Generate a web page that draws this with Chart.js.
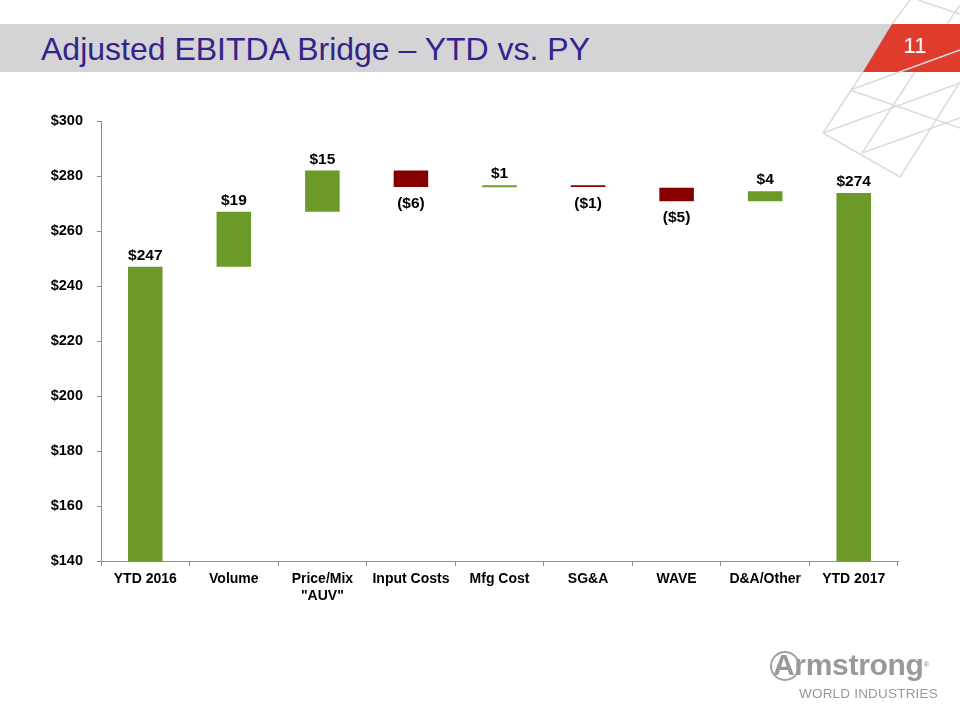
<!DOCTYPE html>
<html>
<head>
<meta charset="utf-8">
<script src="https://cdn.jsdelivr.net/npm/chart.js@4.4.1/dist/chart.umd.min.js"></script>
<style>
  html, body { margin: 0; padding: 0; background: #fff; }
  #page { position: relative; width: 960px; height: 720px; overflow: hidden; font-family: "Liberation Sans", Arial, sans-serif; }
  #deco { position: absolute; left: 0; top: 0; }
  #banner { position: absolute; left: 0; top: 24px; width: 960px; height: 48px; background: #d4d4d6; }
  #title { position: absolute; left: 41px; top: 31px; font-size: 32px; line-height: 36px; color: #33238a; white-space: nowrap; }
  #pagenum { position: absolute; left: 898px; top: 33px; width: 34px; text-align: center; font-size: 22px; color: #fff; }
  #chart { position: absolute; left: 0; top: 0; }
  #logo { position: absolute; left: 770px; top: 650px; width: 190px; height: 60px; color: #999; }
  #logo .ring { position: absolute; left: 0px; top: 1px; width: 26px; height: 26px; border: 2.5px solid #a0a0a0; border-radius: 50%; }
  #logo .big { position: absolute; left: 3px; top: -1px; font-size: 30px; font-weight: bold; letter-spacing: -0.3px; line-height: 32px; white-space: nowrap; }
  #logo .reg { font-size: 7px; vertical-align: top; letter-spacing: 0; }
  #logo .small { position: absolute; left: 29px; top: 36px; font-size: 13.5px; letter-spacing: 0.2px; white-space: nowrap; }
</style>
</head>
<body>
<div id="page">
  <div id="banner"></div>
  <svg id="deco" width="960" height="720">
    <polygon points="892,24 960,24 960,72 863,72" fill="#e03c2e"/>
    <g stroke="#dcdcdc" stroke-width="1.5" fill="none">
      <line x1="910" y1="0" x2="892" y2="24"/>
      <line x1="863" y1="72" x2="823" y2="133"/>
      <line x1="960" y1="5" x2="947" y2="24"/>
      <line x1="915" y1="72" x2="862" y2="153"/>
      <line x1="960" y1="82" x2="900" y2="177"/>
      <line x1="850" y1="90" x2="960" y2="128"/>
      <line x1="823" y1="133" x2="960" y2="83"/>
      <line x1="823" y1="133" x2="900" y2="177"/>
      <line x1="862" y1="153" x2="960" y2="118"/>
      <line x1="850" y1="90" x2="960" y2="50"/>
      <line x1="918" y1="0" x2="960" y2="14"/>
    </g>
  </svg>
  <div id="title">Adjusted EBITDA Bridge – YTD vs. PY</div>
  <div id="pagenum">11</div>
  <canvas id="chart" width="960" height="720"></canvas>
  <div id="logo">
    <div class="ring"></div>
    <div class="big">Armstrong<span class="reg">®</span></div>
    <div class="small">WORLD INDUSTRIES</div>
  </div>
</div>
<script>
const categories = ['YTD 2016', 'Volume', ['Price/Mix', '"AUV"'], 'Input Costs', 'Mfg Cost', 'SG&A', 'WAVE', 'D&A/Other', 'YTD 2017'];
const barStart = [0, 247, 267, 282, 275.9, 276.6, 275.7, 270.8, 0];
const barEnd = [247, 267, 282, 276, 276.6, 276.0, 270.8, 274.5, 273.8];
const valueLabels = ['$247', '$19', '$15', '($6)', '$1', '($1)', '($5)', '$4', '$274'];
const yTicks = [140, 160, 180, 200, 220, 240, 260, 280, 300];

const green = '#6b9a28';
const red = '#870000';

const barColors = barStart.map((s, i) => barEnd[i] >= s ? green : red);

const valueLabelPlugin = {
    id: 'valueLabels',
    afterDatasetsDraw(chart) {
        const ctx = chart.ctx;
        const meta = chart.getDatasetMeta(0);
        ctx.save();
        ctx.font = 'bold 15.5px "Liberation Sans", Arial, sans-serif';
        ctx.fillStyle = '#000';
        ctx.textAlign = 'center';
        meta.data.forEach((bar, i) => {
            const up = barEnd[i] >= barStart[i];
            const yTop = Math.min(bar.y, bar.base);
            const yBot = Math.max(bar.y, bar.base);
            if (up) {
                ctx.textBaseline = 'alphabetic';
                ctx.fillText(valueLabels[i], bar.x, yTop - 7);
            } else {
                ctx.textBaseline = 'top';
                ctx.fillText(valueLabels[i], bar.x, yBot + 9);
            }
        });
        ctx.restore();
    }
};

const ctx = document.getElementById('chart').getContext('2d');
new Chart(ctx, {
    type: 'bar',
    data: {
        labels: categories,
        datasets: [{
            data: barStart.map((s, i) => [s, barEnd[i]]),
            backgroundColor: barColors,
            borderWidth: 0,
            barPercentage: 0.39,
            categoryPercentage: 1
        }]
    },
    options: {
        responsive: false,
        animation: false,
        layout: { padding: { left: 0, right: 62, top: 121, bottom: 0 } },
        plugins: { legend: { display: false }, tooltip: { enabled: false } },
        scales: {
            x: {
                grid: { drawOnChartArea: false, drawTicks: true, tickLength: 5, color: '#8c8c8c', offset: true },
                border: { color: '#8c8c8c', width: 1 },
                ticks: {
                    color: '#000',
                    font: { family: '"Liberation Sans", Arial, sans-serif', size: 14, weight: 'bold' },
                    padding: 5,
                    maxRotation: 0,
                    autoSkip: false
                },
                afterFit(scale) { scale.height = 159; }
            },
            y: {
                min: 140,
                max: 300,
                grid: { drawOnChartArea: false, drawTicks: true, tickLength: 4, color: '#8c8c8c' },
                border: { color: '#8c8c8c', width: 1 },
                afterBuildTicks(scale) { scale.ticks = yTicks.map(v => ({ value: v })); },
                ticks: {
                    color: '#000',
                    font: { family: '"Liberation Sans", Arial, sans-serif', size: 14.5, weight: 'bold' },
                    padding: 14,
                    callback: v => '$' + v
                },
                afterFit(scale) { scale.width = 101; }
            }
        }
    },
    plugins: [valueLabelPlugin]
});
</script>
</body>
</html>
